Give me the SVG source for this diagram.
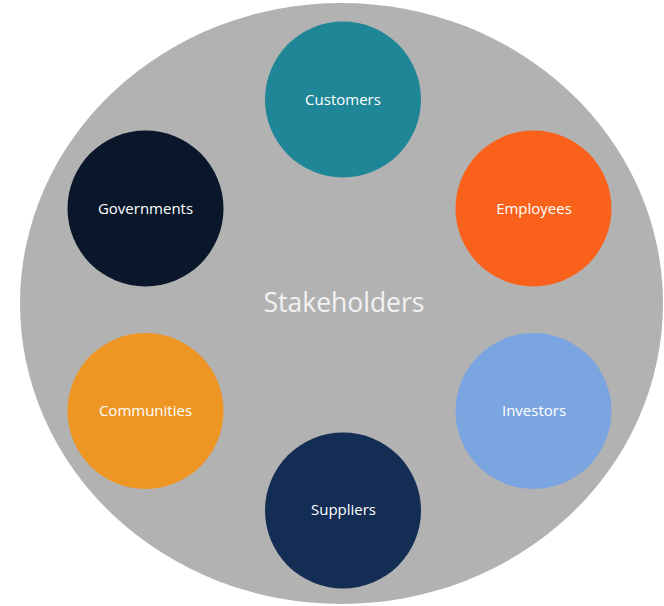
<svg xmlns="http://www.w3.org/2000/svg" width="664" height="606" viewBox="0 0 664 606">
<style>
.lbl{font-family:"Open Sans","Noto Sans",sans-serif;font-size:15px;fill:#ffffff;text-anchor:middle;dominant-baseline:central}
.title{font-family:"Open Sans","Noto Sans",sans-serif;font-size:26.5px;fill:#f2f2f2;text-anchor:middle;dominant-baseline:central}
</style>
<rect width="664" height="606" fill="#ffffff"/>
<g id="stakeholders">
<ellipse cx="341.5" cy="303.5" rx="321.5" ry="300.5" fill="#b2b2b2"/>
<text class="title" x="344" y="302">Stakeholders</text>
</g>
<g id="connectors"></g>
<g id="customers"><circle cx="343" cy="99.5" r="78" fill="#1f8697"/><text class="lbl" x="343" y="98.5">Customers</text></g>
<g id="employees"><circle cx="533.5" cy="208.5" r="78" fill="#fa621c"/><text class="lbl" x="534" y="207.5">Employees</text></g>
<g id="governments"><circle cx="145.5" cy="208.5" r="78" fill="#0a172a"/><text class="lbl" x="145.5" y="207.5">Governments</text></g>
<g id="communities"><circle cx="145.5" cy="411" r="78" fill="#ee9624"/><text class="lbl" x="145.5" y="410">Communities</text></g>
<g id="investors"><circle cx="533.5" cy="411" r="78" fill="#7ba5e0"/><text class="lbl" x="534" y="410">Investors</text></g>
<g id="suppliers"><circle cx="343" cy="510.5" r="78" fill="#142d55"/><text class="lbl" x="343.5" y="509">Suppliers</text></g>
</svg>
